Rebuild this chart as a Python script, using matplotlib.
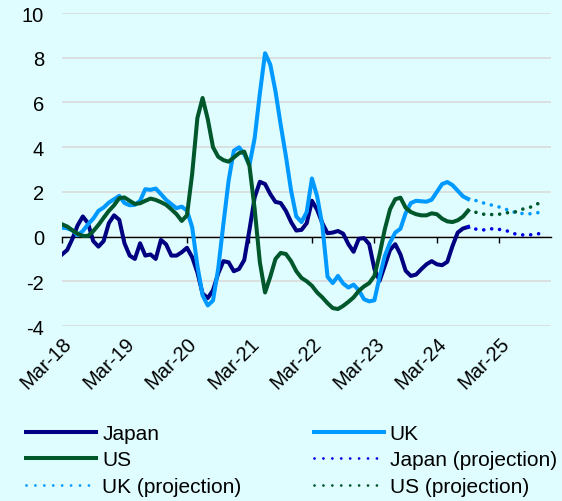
import numpy as np
import pandas as pd
import matplotlib
matplotlib.use("Agg")
import matplotlib.pyplot as plt
from matplotlib.lines import Line2D

plt.rcParams['font.family'] = ['Liberation Sans', 'DejaVu Sans']
plt.rcParams['axes.unicode_minus'] = False

# monthly observations, Mar-18 .. Sep-24
months = pd.period_range('2018-03', '2024-09', freq='M')
# projections, Sep-24 .. Nov-25 (starts from the last actual point)
proj_months = pd.period_range('2024-09', '2025-11', freq='M')

japan = [-0.8, -0.6, -0.1, 0.5, 0.9, 0.6, -0.2, -0.45, -0.2, 0.6, 0.95, 0.75,
         -0.3, -0.85, -1.0, -0.3, -0.85, -0.8, -1.0, -0.15, -0.35, -0.85, -0.85, -0.7,
         -0.5, -0.92, -1.6, -2.55, -2.75, -2.4, -1.65, -1.1, -1.15, -1.55, -1.45, -1.05,
         0.3, 1.75, 2.45, 2.35, 1.9, 1.55, 1.5, 1.15, 0.65, 0.27, 0.3, 0.6,
         1.6, 1.2, 0.6, 0.15, 0.18, 0.25, 0.13, -0.34, -0.68, -0.1, -0.07, -0.34,
         -1.45, -1.98, -1.3, -0.6, -0.34, -0.8, -1.53, -1.76, -1.7, -1.46, -1.24, -1.1,
         -1.24, -1.28, -1.13, -0.42, 0.18, 0.36, 0.43]
uk = [0.4, 0.37, 0.28, 0.06, 0.25, 0.55, 0.8, 1.15, 1.3, 1.52, 1.67, 1.82,
      1.5, 1.4, 1.42, 1.6, 2.12, 2.09, 2.15, 1.9, 1.64, 1.45, 1.27, 1.34,
      1.16, 0.42, -1.3, -2.63, -3.08, -2.86, -1.44, 0.57, 2.5, 3.84, 3.99, 3.69,
      3.2, 4.4, 6.4, 8.2, 7.7, 6.5, 5.0, 3.6, 2.05, 0.9, 0.65, 1.1,
      2.6, 1.8, 0.5, -1.8, -2.08, -1.76, -2.1, -2.28, -2.15, -2.4, -2.8, -2.9,
      -2.85, -1.8, -0.86, -0.27, 0.18, 0.35, 1.05, 1.5, 1.6, 1.58, 1.56, 1.65,
      2.0, 2.35, 2.44, 2.3, 2.05, 1.8, 1.68]
us = [0.55, 0.45, 0.28, 0.13, 0.03, 0.03, 0.24, 0.52, 0.84, 1.15, 1.4, 1.72,
      1.75, 1.6, 1.46, 1.49, 1.6, 1.7, 1.64, 1.54, 1.42, 1.22, 1.0, 0.7,
      0.95, 2.8, 5.3, 6.2, 5.25, 4.0, 3.57, 3.42, 3.35, 3.54, 3.73, 3.8,
      3.17, 1.24, -1.15, -2.5, -1.8, -1.0, -0.73, -0.78, -1.1, -1.55, -1.85, -2.0,
      -2.2, -2.5, -2.72, -2.98, -3.2, -3.24, -3.1, -2.92, -2.72, -2.43, -2.23, -2.08,
      -1.76, -0.79, 0.33, 1.22, 1.67, 1.74, 1.29, 1.1, 1.0, 0.95, 0.95, 1.04,
      1.0, 0.8, 0.68, 0.65, 0.73, 0.89, 1.16]

japan_proj = [0.43, 0.35, 0.32, 0.3, 0.33, 0.36, 0.32, 0.28, 0.22, 0.12, 0.08, 0.07, 0.08, 0.1, 0.15]
uk_proj = [1.68, 1.64, 1.58, 1.5, 1.44, 1.38, 1.32, 1.24, 1.16, 1.08, 1.04, 1.02, 1.02, 1.05, 1.1]
us_proj = [1.16, 1.12, 1.05, 1.0, 0.98, 0.99, 1.0, 1.05, 1.08, 1.1, 1.2, 1.26, 1.32, 1.45, 1.5]

bg = '#DFFDFF'
c_japan = '#000080'
c_uk = '#0099FF'
c_us = '#00572C'
c_japan_proj = '#0000E6'

x = np.arange(len(months))
x_proj = np.arange(len(months) - 1, len(months) - 1 + len(proj_months))

fig = plt.figure(figsize=(5.62, 5.02), dpi=100, facecolor=bg)
ax = fig.add_axes([0.1103, 0.3486, 0.870, 0.6235])
ax.set_facecolor(bg)

lw = 2.9
dot = (0, (0.01, 2.2))
ax.plot(x, japan, color=c_japan, lw=lw, zorder=3)
ax.plot(x, uk, color=c_uk, lw=lw, zorder=3)
ax.plot(x, us, color=c_us, lw=lw, zorder=4)
ax.plot(x_proj, japan_proj, color=c_japan_proj, lw=2.6, ls=dot, dash_capstyle='round', zorder=3)
ax.plot(x_proj, uk_proj, color=c_uk, lw=2.6, ls=dot, dash_capstyle='round', zorder=3)
ax.plot(x_proj, us_proj, color=c_us, lw=2.6, ls=dot, dash_capstyle='round', zorder=3)

ax.set_ylim(-4, 10)
ax.set_xlim(0, 93.9)
ax.set_yticks(np.arange(-4, 11, 2))
ax.yaxis.grid(True, color='#D9D9D9', lw=1.2)
ax.set_axisbelow(True)
ax.tick_params(axis='y', length=0, pad=13, labelsize=14.5)

for s in ['top', 'right', 'left']:
    ax.spines[s].set_visible(False)
ax.spines['bottom'].set_position(('data', 0))
ax.spines['bottom'].set_color('black')
ax.spines['bottom'].set_linewidth(1.0)
ax.spines['bottom'].set_zorder(2)

march_idx = [i for i, m in enumerate(months) if m.month == 3] + [len(months) - 1 + 6]
tick_labels = [f"Mar-{y % 100:02d}" for y in range(2018, 2026)]
ax.set_xticks(march_idx)
ax.tick_params(axis='x', direction='out', length=4, width=1, color='black', labelbottom=False)

sec = ax.secondary_xaxis('bottom')
sec.set_xticks(march_idx, labels=tick_labels)
sec.tick_params(length=0, pad=5, labelsize=14.5)
for lab in sec.get_xticklabels():
    lab.set_rotation(45)
    lab.set_ha('right')
    lab.set_va('top')
    lab.set_rotation_mode('anchor')
for s in sec.spines.values():
    s.set_visible(False)

dot_leg = (0, (0.01, 3.2))
handles = [
    Line2D([], [], color=c_japan, lw=2.9),
    Line2D([], [], color=c_us, lw=2.9),
    Line2D([], [], color=c_uk, lw=2.0, ls=dot_leg, dash_capstyle='round'),
    Line2D([], [], color=c_uk, lw=2.9),
    Line2D([], [], color=c_japan_proj, lw=2.0, ls=dot_leg, dash_capstyle='round'),
    Line2D([], [], color=c_us, lw=2.0, ls=dot_leg, dash_capstyle='round'),
]
labels = ['Japan', 'US', 'UK (projection)', 'UK', 'Japan (projection)', 'US (projection)']
fig.legend(handles, labels, loc='center left', bbox_to_anchor=(26 / 562, 1 - 461 / 502),
           ncol=2, frameon=False, fontsize=15, handlelength=3.37, handletextpad=0.29,
           columnspacing=3.46, labelspacing=0.36, borderpad=0, borderaxespad=0)

fig.savefig('out.png', dpi=100, facecolor=bg)
